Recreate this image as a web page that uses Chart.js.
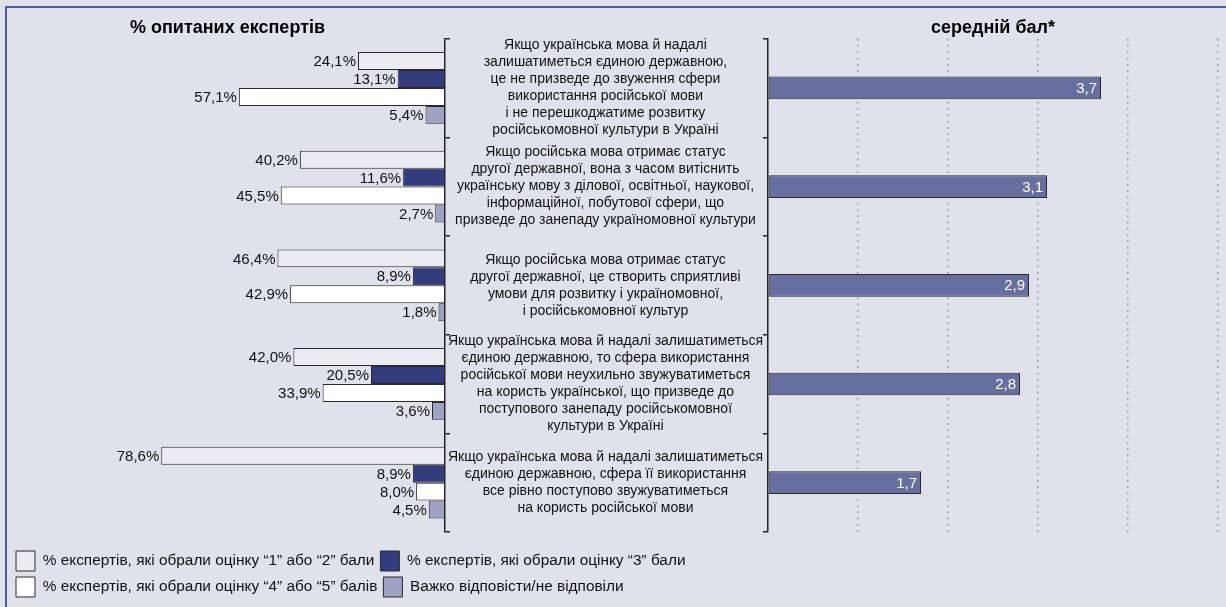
<!DOCTYPE html>
<html lang="uk">
<head>
<meta charset="utf-8">
<script src="https://cdn.jsdelivr.net/npm/chart.js@4.4.1/dist/chart.umd.min.js"></script>
<style>
html,body{margin:0;padding:0;background:#e0e2eb;}
#wrap{position:relative;width:1226px;height:607px;overflow:hidden;}
.rule{position:absolute;background:#535a9b;}
canvas{position:absolute;left:0;top:0;}
</style>
</head>
<body>
<div id="wrap">
<div class="rule" style="left:5px;top:6px;width:1221px;height:2px;"></div>
<div class="rule" style="left:5px;top:6px;width:2px;height:601px;"></div>
<canvas id="shares" width="1226" height="607"></canvas>
<canvas id="scores" width="1226" height="607"></canvas>
</div>
<script>
// statements that experts rated
const statements = [
['Якщо українська мова й надалі', 'залишатиметься єдиною державною,', 'це не призведе до звуження сфери', 'використання російської мови', 'і не перешкоджатиме розвитку', 'російськомовної культури в Україні'],
['Якщо російська мова отримає статус', 'другої державної, вона з часом витіснить', 'українську мову з ділової, освітньої, наукової,', 'інформаційної, побутової сфери, що', 'призведе до занепаду україномовної культури'],
['Якщо російська мова отримає статус', 'другої державної, це створить сприятливі', 'умови для розвитку і україномовної,', 'і російськомовної культур'],
['Якщо українська мова й надалі залишатиметься', 'єдиною державною, то сфера використання', 'російської мови неухильно звужуватиметься', 'на користь української, що призведе до', 'поступового занепаду російськомовної', 'культури в Україні'],
['Якщо українська мова й надалі залишатиметься', 'єдиною державною, сфера її використання', 'все рівно поступово звужуватиметься', 'на користь російської мови']
];

// % of experts by score
const score12 = [24.1, 40.2, 46.4, 42.0, 78.6];
const score3 = [13.1, 11.6, 8.9, 20.5, 8.9];
const score45 = [57.1, 45.5, 42.9, 33.9, 8.0];
const noAnswer = [5.4, 2.7, 1.8, 3.6, 4.5];

// average score
const avgScore = [3.7, 3.1, 2.9, 2.8, 1.7];
const avgTicks = [0, 1, 2, 3, 4, 5];

const seriesNames = [
'% експертів, які обрали оцінку “1” або “2” бали',
'% експертів, які обрали оцінку “3” бали',
'% експертів, які обрали оцінку “4” або “5” балів',
'Важко відповісти/не відповіли'
];

Chart.defaults.font.family = "'Liberation Sans', Arial, sans-serif";
Chart.defaults.color = '#111';

// writes the value next to every bar
const valueLabels = {
id: 'valueLabels',
afterDatasetsDraw(chart, args, opts){
const ctx = chart.ctx;
ctx.save();
ctx.font = opts.font;
ctx.textAlign = 'right';
ctx.textBaseline = 'middle';
ctx.fillStyle = opts.color;
chart.data.datasets.forEach((ds, i) => {
chart.getDatasetMeta(i).data.forEach((bar, j) => {
const txt = ds.data[j].toFixed(1).replace('.', ',') + opts.suffix;
ctx.fillText(txt, bar.x + opts.offset, bar.y + 1);
});
});
ctx.restore();
}
};

const titleFont = { size:18, weight:'bold' };

// LEFT: shares of experts
new Chart(document.getElementById('shares'), {
type:'bar',
data:{
labels: statements,
datasets:[
{ label:seriesNames[0], data:score12, backgroundColor:'#ebecf2' },
{ label:seriesNames[1], data:score3, backgroundColor:'#333d7d' },
{ label:seriesNames[2], data:score45, backgroundColor:'#ffffff' },
{ label:seriesNames[3], data:noAnswer, backgroundColor:'#9ea3c4' }
]
},
plugins:[valueLabels],
options:{
indexAxis:'y',
responsive:false,
animation:false,
layout:{ padding:{ left:10, right:500, top:0, bottom:0 } },
datasets:{ bar:{ borderColor:'#2a2a2a', borderWidth:1, borderSkipped:false, categoryPercentage:0.727, barPercentage:1 } },
plugins:{
title:{ display:false },
tooltip:{ enabled:false },
legend:{
position:'bottom',
align:'start',
labels:{ boxWidth:19, boxHeight:20, padding:6, color:'#111', font:{ size:15.4 } }
},
valueLabels:{ font:"15px 'Liberation Sans', Arial, sans-serif", color:'#111', suffix:'%', offset:-2 }
},
scales:{
x:{
position:'top',
reverse:true,
min:0,
max:120.5,
grid:{ display:false, drawTicks:false },
border:{ display:false },
ticks:{ display:false },
title:{ display:true, text:'% опитаних експертів', color:'#000', font:titleFont, padding:{ top:17, bottom:0 } }
},
gap:{
type:'linear',
position:'bottom',
grid:{ display:false, drawTicks:false },
border:{ display:false },
ticks:{ display:false },
afterFit(scale){ scale.height = 13; }
},
y:{
position:'right',
grid:{ drawOnChartArea:false, drawTicks:true, tickLength:5, color:'#222', lineWidth:1.5 },
border:{ display:true, color:'#222', width:1.5 },
ticks:{ display:false, autoSkip:false },
afterFit(scale){ scale.width = 281; }
}
}
}
});

// RIGHT: average score
new Chart(document.getElementById('scores'), {
type:'bar',
data:{
labels: statements,
datasets:[
{ label:'середній бал', data:avgScore, backgroundColor:'#676fa1', borderColor:'#2a2a2a', borderWidth:1, borderSkipped:false, categoryPercentage:0.23, barPercentage:1 }
]
},
plugins:[valueLabels],
options:{
indexAxis:'y',
responsive:false,
animation:false,
layout:{ padding:{ left:445, right:8, top:0, bottom:75 } },
plugins:{
legend:{ display:false },
tooltip:{ enabled:false },
valueLabels:{ font:"15px 'Liberation Sans', Arial, sans-serif", color:'#ffffff', suffix:'', offset:-4 }
},
scales:{
x:{
position:'top',
min:avgTicks[0],
max:avgTicks[avgTicks.length - 1],
afterBuildTicks(scale){ scale.ticks = avgTicks.map(v => ({ value:v })); },
grid:{
drawTicks:false,
lineWidth:1.5,
color:(c) => (c.tick && c.tick.value === 0) ? 'rgba(0,0,0,0)' : '#8d8f9b'
},
border:{ display:false, dash:[1.5, 4.8] },
ticks:{ display:false },
title:{ display:true, text:'середній бал*', color:'#000', font:titleFont, padding:{ top:17, bottom:0 } }
},
y:{
position:'left',
grid:{ drawOnChartArea:false, drawTicks:true, tickLength:5, color:'#222', lineWidth:1.5 },
border:{ display:true, color:'#222', width:1.5 },
ticks:{
autoSkip:false,
crossAlign:'center',
padding:0,
color:'#111',
font:{ size:14, lineHeight:'17px' }
},
afterFit(scale){ scale.width = 323; }
}
}
}
});
</script>
</body>
</html>
